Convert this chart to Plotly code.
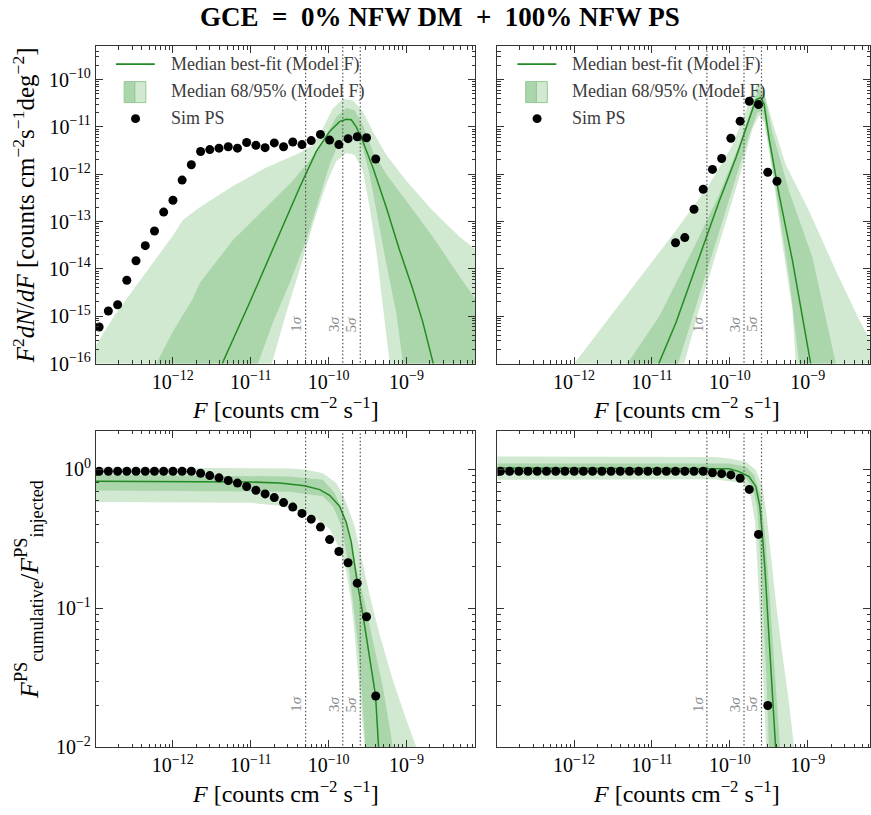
import numpy as np
import plotly.graph_objects as go

W, H = 871, 815
FONT = "Liberation Serif, DejaVu Serif, serif"
GREEN = "rgb(34,139,34)"
LIGHT = "rgb(209,232,209)"
MID = "rgb(171,213,171)"
FRAME = "#333333"

# ---------------- data ----------------
flux_bins = [1.135e-13, 1.489e-13, 1.959e-13, 2.570e-13, 3.373e-13, 4.436e-13, 5.821e-13,
             7.638e-13, 1.005e-12, 1.318e-12, 1.730e-12, 2.275e-12, 2.985e-12, 3.917e-12,
             5.152e-12, 6.761e-12, 8.872e-12, 1.167e-11, 1.531e-11, 2.009e-11, 2.642e-11,
             3.467e-11, 4.550e-11, 5.984e-11, 7.852e-11, 1.030e-10, 1.355e-10, 1.778e-10,
             2.333e-10, 3.069e-10, 4.027e-10]

# Sim PS, F^2 dN/dF (left: all bins, right: bins 19..30)
tl_sim = [5.9e-16, 1.29e-15, 1.74e-15, 5.75e-15, 1.48e-14, 3.09e-14, 6.31e-14, 1.58e-13,
          2.82e-13, 7.5e-13, 1.58e-12, 3.02e-12, 3.31e-12, 3.55e-12, 3.80e-12, 3.55e-12,
          4.68e-12, 4.07e-12, 3.63e-12, 4.57e-12, 3.80e-12, 4.79e-12, 4.22e-12, 5.13e-12,
          6.92e-12, 5.25e-12, 4.22e-12, 5.62e-12, 6.17e-12, 5.89e-12, 2.09e-12]
tr_sim = [3.55e-14, 4.57e-14, 1.82e-13, 4.79e-13, 1.26e-12, 2.14e-12, 5.75e-12, 1.32e-11,
          3.47e-11, 2.95e-11, 1.10e-12, 7.08e-13]
# Sim PS cumulative fraction (left: all bins, right: bins 0..29)
bl_sim = [0.971, 0.971, 0.971, 0.971, 0.971, 0.971, 0.971, 0.971, 0.971, 0.971, 0.971,
          0.940, 0.904, 0.871, 0.834, 0.798, 0.755, 0.708, 0.667, 0.628, 0.578, 0.536,
          0.483, 0.439, 0.385, 0.313, 0.257, 0.213, 0.152, 0.0871, 0.0234]
br_sim = [0.971] * 23 + [0.948, 0.933, 0.914, 0.865, 0.719, 0.341, 0.020]

sigma_flux = [5.07e-11, 1.52e-10, 2.55e-10]
sigma_text = ["1<i>σ</i>", "3<i>σ</i>", "5<i>σ</i>"]

# Model curves as (log10 F, log10 value) pairs
tl_med = [(-11.40, -16.3), (-11.355, -15.96), (-11.013, -14.71), (-10.67, -13.39), (-10.372, -12.28),
          (-10.158, -11.52), (-9.987, -11.10), (-9.859, -10.89), (-9.773, -10.84), (-9.709, -10.85),
          (-9.645, -11.0), (-9.56, -11.31), (-9.432, -11.86), (-9.26, -12.70), (-9.09, -13.60),
          (-8.919, -14.43), (-8.79, -15.13), (-8.663, -15.96), (-8.62, -16.3)]
tl_up95 = [(-13.1, -16.1), (-13.0, -15.65), (-12.75, -14.99), (-12.5, -14.43), (-12.25, -13.875),
           (-12.0, -13.30), (-11.87, -12.97), (-11.654, -12.70), (-11.227, -12.25), (-10.80, -11.86),
           (-10.372, -11.55), (-10.2, -11.38), (-10.073, -11.03), (-9.945, -10.61), (-9.817, -10.41),
           (-9.689, -10.44), (-9.56, -10.68), (-9.432, -11.10), (-9.26, -11.59), (-9.004, -12.14),
           (-8.663, -12.77), (-8.32, -13.32), (-8.106, -13.60), (-8.0, -13.75)]
tl_lo95 = [(-13.1, -17), (-10.78, -16.3), (-10.735, -16.0), (-10.542, -14.92), (-10.372, -14.02),
           (-10.2, -13.05), (-10.03, -12.21), (-9.90, -11.72), (-9.773, -11.55), (-9.667, -11.59),
           (-9.56, -11.93), (-9.474, -12.70), (-9.389, -13.60), (-9.304, -14.71), (-9.218, -15.96),
           (-9.19, -16.3), (-8.0, -17)]
tl_up68 = [(-13.1, -17), (-12.3, -16.3), (-12.21, -16.0), (-12.0, -15.33), (-11.75, -14.65),
           (-11.654, -14.3), (-11.227, -13.39), (-10.80, -12.70), (-10.458, -12.14), (-10.2, -11.62),
           (-10.03, -11.17), (-9.90, -10.79), (-9.773, -10.60), (-9.667, -10.65), (-9.56, -10.96),
           (-9.432, -11.52), (-9.26, -12.0), (-9.004, -12.56), (-8.663, -13.32), (-8.32, -14.16),
           (-8.0, -14.9)]
tl_lo68 = [(-13.1, -17), (-10.95, -16.3), (-10.906, -16.0), (-10.714, -15.13), (-10.5, -14.30),
           (-10.286, -13.39), (-10.115, -12.49), (-9.987, -11.80), (-9.88, -11.38), (-9.773, -11.17),
           (-9.667, -11.17), (-9.56, -11.45), (-9.474, -12.0), (-9.389, -12.70), (-9.26, -13.88),
           (-9.132, -14.92), (-9.047, -15.96), (-9.0, -16.3), (-8.0, -17)]

tr_med = [(-10.95, -16.3), (-10.906, -15.98), (-10.692, -15.14), (-10.394, -13.75), (-10.137, -12.57),
          (-9.923, -11.66), (-9.753, -10.83), (-9.667, -10.43), (-9.603, -10.38), (-9.56, -10.52),
          (-9.496, -11.25), (-9.368, -12.43), (-9.197, -13.82), (-9.069, -15.0), (-8.962, -15.98),
          (-8.93, -16.3)]
tr_up95 = [(-13.1, -17), (-12.05, -16.3), (-11.996, -16.0), (-11.333, -14.58), (-10.692, -13.19),
           (-10.265, -12.22), (-9.966, -11.39), (-9.753, -10.48), (-9.646, -10.08), (-9.582, -10.14),
           (-9.454, -10.90), (-9.282, -11.80), (-8.983, -12.78), (-8.641, -14.03), (-8.342, -15.07),
           (-8.1, -15.8)]
tr_lo95 = [(-13.1, -17), (-10.62, -16.3), (-10.586, -16.0), (-10.394, -14.86), (-10.137, -13.47),
           (-9.881, -12.08), (-9.71, -11.04), (-9.624, -10.76), (-9.56, -10.90), (-9.454, -11.94),
           (-9.326, -13.47), (-9.197, -14.86), (-9.154, -15.98), (-9.13, -16.3), (-8.0, -17)]
tr_up68 = [(-13.1, -17), (-11.36, -16.3), (-11.313, -16.0), (-10.906, -15.0), (-10.479, -13.61),
           (-10.137, -12.43), (-9.881, -11.39), (-9.71, -10.55), (-9.624, -10.20), (-9.56, -10.28),
           (-9.454, -11.11), (-9.24, -12.36), (-8.941, -13.75), (-8.641, -15.98), (-8.6, -16.3),
           (-8.0, -17)]
tr_lo68 = [(-13.1, -17), (-10.72, -16.3), (-10.672, -16.0), (-10.394, -14.58), (-10.137, -13.19),
           (-9.923, -12.08), (-9.753, -11.18), (-9.646, -10.69), (-9.573, -10.69), (-9.496, -11.39),
           (-9.368, -12.78), (-9.24, -14.16), (-9.112, -15.98), (-9.09, -16.3), (-8.0, -17)]

bl_med = [(-13.1, -0.084), (-11.0, -0.090), (-10.628, -0.098), (-10.308, -0.117), (-10.115, -0.145),
          (-9.987, -0.186), (-9.859, -0.264), (-9.773, -0.382), (-9.709, -0.523), (-9.632, -0.814),
          (-9.56, -1.044), (-9.509, -1.233), (-9.453, -1.422), (-9.397, -1.630), (-9.359, -1.994),
          (-9.33, -2.3)]
bl_up95 = [(-13.1, 0.014), (-10.5, 0.008), (-10.3, 0.0), (-10.073, -0.027), (-9.901, -0.098),
           (-9.773, -0.240), (-9.667, -0.406), (-9.581, -0.618), (-9.474, -0.902), (-9.346, -1.186),
           (-9.176, -1.516), (-9.004, -1.80), (-8.876, -1.994), (-8.75, -2.3)]
bl_lo95 = [(-13.1, -0.233), (-11.0, -0.240), (-10.6, -0.262), (-10.201, -0.335), (-9.987, -0.429),
           (-9.859, -0.571), (-9.773, -0.736), (-9.709, -0.949), (-9.667, -1.186), (-9.603, -1.564),
           (-9.538, -1.994), (-9.5, -2.3)]
bl_up68 = [(-13.1, -0.037), (-10.5, -0.050), (-10.073, -0.074), (-9.923, -0.169), (-9.817, -0.299),
           (-9.731, -0.477), (-9.645, -0.713), (-9.538, -0.949), (-9.432, -1.233), (-9.304, -1.564),
           (-9.176, -1.994), (-9.1, -2.3)]
bl_lo68 = [(-13.1, -0.150), (-10.5, -0.160), (-10.073, -0.193), (-9.945, -0.264), (-9.837, -0.406),
           (-9.773, -0.594), (-9.722, -0.784), (-9.667, -1.044), (-9.603, -1.374), (-9.526, -1.994),
           (-9.5, -2.3)]

br_med = [(-13.1, 0.011), (-10.2, 0.009), (-10.009, 0.005), (-9.881, -0.015), (-9.753, -0.051),
          (-9.667, -0.122), (-9.615, -0.264), (-9.582, -0.477), (-9.547, -0.736), (-9.505, -1.138),
          (-9.462, -1.516), (-9.41, -1.994), (-9.38, -2.3)]
br_up95 = [(-13.1, 0.094), (-10.2, 0.090), (-10.009, 0.079), (-9.795, 0.055), (-9.667, -0.004),
           (-9.582, -0.122), (-9.531, -0.311), (-9.474, -0.618), (-9.41, -0.949), (-9.326, -1.328),
           (-9.24, -1.682), (-9.176, -1.994), (-9.13, -2.3)]
br_lo95 = [(-13.1, -0.074), (-10.2, -0.070), (-9.838, -0.098), (-9.731, -0.193), (-9.676, -0.382),
           (-9.646, -0.665), (-9.615, -1.02), (-9.573, -1.493), (-9.531, -1.994), (-9.51, -2.3)]
br_up68 = [(-13.1, 0.044), (-10.009, 0.044), (-9.795, 0.020), (-9.688, -0.039), (-9.603, -0.193),
           (-9.547, -0.477), (-9.496, -0.855), (-9.432, -1.374), (-9.346, -1.994), (-9.32, -2.3)]
br_lo68 = [(-13.1, -0.032), (-10.009, -0.030), (-9.817, -0.051), (-9.71, -0.122), (-9.646, -0.287),
           (-9.615, -0.547), (-9.582, -0.902), (-9.531, -1.493), (-9.496, -1.994), (-9.48, -2.3)]

# ---------------- figure ----------------
fig = go.Figure()


def px(x):
    return x / W


def py(y):
    return 1 - y / H


def lin(pairs):
    return [10 ** p[0] for p in pairs], [10 ** p[1] for p in pairs]


def add_band(xa, ya, up, lo, color):
    ux, uy = lin(up)
    lx, ly = lin(lo)
    fig.add_trace(go.Scatter(x=ux + lx[::-1], y=uy + ly[::-1], mode="lines", fill="toself",
                             fillcolor=color, line=dict(width=0, color=color),
                             xaxis=xa, yaxis=ya, hoverinfo="skip", showlegend=False))


panels = [
    dict(xa="x", ya="y", up95=tl_up95, lo95=tl_lo95, up68=tl_up68, lo68=tl_lo68, med=tl_med,
         sx=flux_bins, sy=tl_sim, yl=(1e-17, 1e-9), lab_y=-15.17),
    dict(xa="x2", ya="y2", up95=tr_up95, lo95=tr_lo95, up68=tr_up68, lo68=tr_lo68, med=tr_med,
         sx=flux_bins[19:31], sy=tr_sim, yl=(1e-17, 1e-9), lab_y=-15.17),
    dict(xa="x3", ya="y3", up95=bl_up95, lo95=bl_lo95, up68=bl_up68, lo68=bl_lo68, med=bl_med,
         sx=flux_bins, sy=bl_sim, yl=(1e-3, 10), lab_y=-1.69),
    dict(xa="x4", ya="y4", up95=br_up95, lo95=br_lo95, up68=br_up68, lo68=br_lo68, med=br_med,
         sx=flux_bins[0:30], sy=br_sim, yl=(1e-3, 10), lab_y=-1.69),
]

annotations = []
shapes = []
for p in panels:
    add_band(p["xa"], p["ya"], p["up95"], p["lo95"], LIGHT)
    add_band(p["xa"], p["ya"], p["up68"], p["lo68"], MID)
    mx, my = lin(p["med"])
    fig.add_trace(go.Scatter(x=mx, y=my, mode="lines", line=dict(color=GREEN, width=1.5),
                             xaxis=p["xa"], yaxis=p["ya"], hoverinfo="skip", showlegend=False))
    for s, t in zip(sigma_flux, sigma_text):
        fig.add_trace(go.Scatter(x=[s, s], y=list(p["yl"]), mode="lines",
                                 line=dict(color="#555555", width=1.2, dash="1.5px,2.2px"),
                                 xaxis=p["xa"], yaxis=p["ya"], hoverinfo="skip", showlegend=False))
        annotations.append(dict(x=np.log10(s), y=p["lab_y"], xref=p["xa"], yref=p["ya"], text=t,
                                textangle=-90, showarrow=False, xshift=-9,
                                font=dict(family=FONT, size=15, color="#8a8a8a"),
                                xanchor="center", yanchor="middle"))
    fig.add_trace(go.Scatter(x=p["sx"], y=p["sy"], mode="markers",
                             marker=dict(color="black", size=9, line=dict(width=0)),
                             xaxis=p["xa"], yaxis=p["ya"], hoverinfo="skip", showlegend=False,
                             cliponaxis=True))

# ---------------- axes ----------------
def decade_minors(lo, hi):
    vals = []
    for e in range(lo, hi):
        for m in range(2, 10):
            vals.append(m * 10.0 ** e)
    return vals


def sup(e):
    return "10<sup>%s</sup>" % (str(e).replace("-", "−"))


xt_vals = [1e-12, 1e-11, 1e-10, 1e-9]
xt_text = [sup(-12), sup(-11), sup(-10), sup(-9)]
yt_top_vals = [1e-16, 1e-15, 1e-14, 1e-13, 1e-12, 1e-11, 1e-10]
yt_top_text = [sup(e) for e in range(-16, -9)]
yt_bot_vals = [1e-2, 1e-1, 1e0]
yt_bot_text = [sup(-2), sup(-1), sup(0)]

common = dict(type="log", showgrid=False, zeroline=False, showline=True, linecolor=FRAME,
              linewidth=1, mirror="ticks", ticks="inside", ticklen=7, tickwidth=1,
              tickcolor=FRAME, tickfont=dict(family=FONT, size=20, color="black"))

xminor = dict(ticks="inside", ticklen=3.5, tickwidth=0.8, tickcolor=FRAME,
              tickmode="array", tickvals=decade_minors(-14, -7))

dom_xl = [px(96), px(476)]
dom_xr = [px(498), 1.0]
dom_yt = [py(368.5), py(47)]
dom_yb = [py(757.5), py(436.5)]
rng_xl = [-12.987, -8.115]
rng_xr = [-12.983, -8.201]

layout_axes = {}
for i, (dx, rx, dy, ry, ytv, ytt, ymn, show_y) in enumerate([
    (dom_xl, rng_xl, dom_yt, [-16, -9.30], yt_top_vals, yt_top_text, decade_minors(-17, -8), True),
    (dom_xr, rng_xr, dom_yt, [-16, -9.30], yt_top_vals, yt_top_text, decade_minors(-17, -8), False),
    (dom_xl, rng_xl, dom_yb, [-2, 0.28], yt_bot_vals, yt_bot_text, decade_minors(-3, 1), True),
    (dom_xr, rng_xr, dom_yb, [-2, 0.28], yt_bot_vals, yt_bot_text, decade_minors(-3, 1), False),
]):
    n = "" if i == 0 else str(i + 1)
    layout_axes["xaxis" + n] = dict(common, domain=dx, range=rx, anchor="y" + n,
                                    tickmode="array", tickvals=xt_vals, ticktext=xt_text,
                                    minor=xminor)
    layout_axes["yaxis" + n] = dict(common, domain=dy, range=ry, anchor="x" + n,
                                    tickmode="array", tickvals=ytv, ticktext=ytt,
                                    showticklabels=show_y,
                                    minor=dict(ticks="inside", ticklen=3.5, tickwidth=0.8,
                                               tickcolor=FRAME, tickmode="array", tickvals=ymn))

# ---------------- legends (drawn manually, top panels) ----------------
leg_texts = ["Median best-fit (Model F)", "Median 68/95% (Model F)", "Sim PS"]
for off in (0, 402):
    shapes.append(dict(type="line", xref="paper", yref="paper", x0=px(116 + off), x1=px(155 + off),
                       y0=py(65), y1=py(65), line=dict(color=GREEN, width=1.8)))
    shapes.append(dict(type="rect", xref="paper", yref="paper", x0=px(124.3 + off), x1=px(135 + off),
                       y0=py(104), y1=py(82.7), fillcolor=MID, line=dict(color="rgb(150,200,150)", width=1)))
    shapes.append(dict(type="rect", xref="paper", yref="paper", x0=px(135 + off), x1=px(146 + off),
                       y0=py(104), y1=py(82.7), fillcolor=LIGHT, line=dict(color="rgb(150,200,150)", width=1)))
    shapes.append(dict(type="circle", xref="paper", yref="paper", x0=px(131.2 + off), x1=px(140.2 + off),
                       y0=py(124.8), y1=py(115.8), fillcolor="black", line=dict(width=0)))
    for t, yy in zip(leg_texts, [65, 93, 120]):
        annotations.append(dict(x=px(169 + off), y=py(yy), xref="paper", yref="paper", text=t,
                                showarrow=False, xanchor="left", yanchor="middle",
                                font=dict(family=FONT, size=18, color="#3c3c3c")))

# ---------------- axis titles & title ----------------
xlab = "<i>F</i> [counts cm<sup>−2</sup> s<sup>−1</sup>]"
for cx in (286, 687):
    for cy in (414, 803):
        annotations.append(dict(x=px(cx), y=py(cy), xref="paper", yref="paper", text=xlab,
                                showarrow=False, xanchor="center", yanchor="middle",
                                font=dict(family=FONT, size=24, color="black")))
annotations.append(dict(x=px(24), y=py(208), xref="paper", yref="paper", textangle=-90,
                        text="<i>F</i><sup>2</sup><i>dN</i>/<i>dF</i> [counts cm<sup>−2</sup>s<sup>−1</sup>deg<sup>−2</sup>]",
                        showarrow=False, xanchor="center", yanchor="middle",
                        font=dict(family=FONT, size=25, color="black")))
annotations.append(dict(x=px(29), y=py(597), xref="paper", yref="paper", textangle=-90,
                        text="<i>F</i><sup>PS</sup><sub>cumulative</sub>/<i>F</i><sup>PS</sup><sub>injected</sub>",
                        showarrow=False, xanchor="center", yanchor="middle",
                        font=dict(family=FONT, size=26, color="black")))
nb = "\u00a0"
annotations.append(dict(x=px(441), y=1.0, xref="paper", yref="paper",
                        text="<b>GCE" + nb + " = " + nb + "0% NFW DM " + nb + "+" + nb + " 100% NFW PS</b>",
                        showarrow=False, xanchor="center", yanchor="top",
                        font=dict(family=FONT, size=27, color="black")))

fig.update_layout(width=W, height=H, margin=dict(l=0, r=0, t=0, b=0),
                  paper_bgcolor="white", plot_bgcolor="white", showlegend=False,
                  annotations=annotations, shapes=shapes, **layout_axes)

# remove the default page margin so the 871x815 figure fills the window exactly
fig.write_html("out.html", config={"displayModeBar": False},
               post_script="document.body.style.margin='0px';")
